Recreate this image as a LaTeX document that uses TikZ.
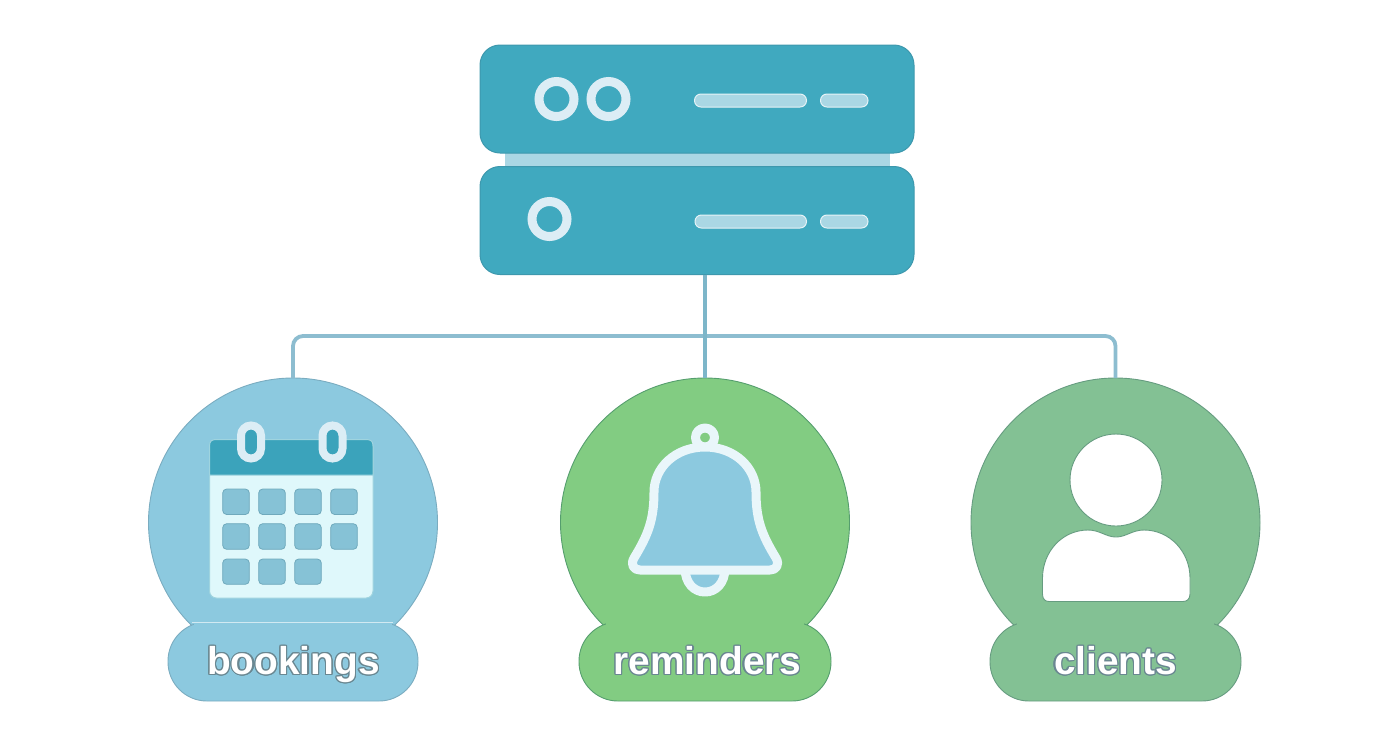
\documentclass[tikz,border=0pt]{standalone}
\usepackage{fontspec}
\setmainfont{Liberation Sans}
\usepackage[copies]{contour}
\contourlength{0.6pt}
\usetikzlibrary{positioning}
\definecolor{rackfill}{HTML}{40A9BF}
\definecolor{rackedge}{HTML}{3D98AD}
\definecolor{rackhead}{HTML}{3BA3BB}
\definecolor{rackbar}{HTML}{AAD7E4}
\definecolor{ringpale}{HTML}{DCEDF5}
\definecolor{linkblue}{HTML}{8DBDD0}
\definecolor{bookfill}{HTML}{8CC9DF}
\definecolor{bookedge}{HTML}{7AACC0}
\definecolor{remfill}{HTML}{82CC82}
\definecolor{remedge}{HTML}{559E6E}
\definecolor{clifill}{HTML}{83C194}
\definecolor{cliedge}{HTML}{669C80}
\definecolor{calbody}{HTML}{DFF8FB}
\definecolor{calcell}{HTML}{86C2D6}
\definecolor{celledge}{HTML}{6FA9BC}
\definecolor{bellpale}{HTML}{E9F6FA}
\definecolor{textedge}{HTML}{6A8791}
\tikzset{
	rackbox/.style={draw=rackedge, fill=rackfill, line width=0.5pt, rectangle, rounded corners=10pt, minimum width=217pt, minimum height=54pt, inner sep=0pt, outer sep=0pt},
	led/.style={draw=ringpale, line width=4.5pt, fill=rackfill, circle, minimum size=17.5pt, inner sep=0pt},
	slot/.style={draw=white!70!rackbar, line width=0.5pt, fill=rackbar, rounded corners=3.2pt},
	link/.style={draw=linkblue, line width=1.9pt, rounded corners=5pt},
	bigcirc/.style={circle, minimum size=144.5pt, inner sep=0pt, outer sep=0pt, line width=0.45pt},
	pill/.style={rectangle, rounded corners=19.5pt, minimum height=39.5pt, inner sep=0pt, outer sep=0pt, line width=0.45pt},
	tag/.style={anchor=base, font=\bfseries\fontsize{19.4}{21}\selectfont, inner sep=0pt},
	cell/.style={draw=celledge, line width=0.4pt, fill=calcell, rounded corners=2pt},
	calring/.style={draw=ringpale, line width=4pt, fill=rackhead, rounded corners=5pt},
	bell/.style={draw=bellpale, line width=4.5pt, fill=bookfill, line join=round}
}
\begin{document}
\begin{tikzpicture}[x=0.5pt, y=-0.5pt]
	\useasboundingbox (0,0) rectangle (1392,752);
	\fill[rackbar] (505,150) rectangle (890,170);
	\node[rackbox] (rackTop) at (697,99) {};
	\node[rackbox] (rackBottom) at (697,220.5) {};
	\node[led] (ledA) at (556.5,99) {};
	\node[led] (ledB) at (608.5,99) {};
	\node[led] (ledC) at (549.5,219) {};
	\draw[slot] (694.5,94) rectangle (806.5,107);
	\draw[slot] (820.5,94) rectangle (868,107);
	\draw[slot] (695,215) rectangle (806.5,228);
	\draw[slot] (820.5,215) rectangle (868,228);

	\node[bigcirc, draw=bookedge, fill=bookfill] (circBookings) at (293,522.5) {};
	\node[bigcirc, draw=remedge, fill=remfill] (circReminders) at (705,522.5) {};
	\node[bigcirc, draw=cliedge, fill=clifill] (circClients) at (1115.5,522.5) {};
	\node[pill, draw=bookedge, fill=bookfill, minimum width=125pt] (pillBookings) at (293,661.5) {};
	\node[pill, draw=remedge, fill=remfill, minimum width=126pt] (pillReminders) at (705,661.5) {};
	\node[pill, draw=cliedge, fill=clifill, minimum width=125.5pt] (pillClients) at (1115.5,661.5) {};
	\fill[bookfill] (194,620) rectangle (392,628);
	\fill[remfill] (606,620) rectangle (804,628);
	\fill[clifill] (1017,620) rectangle (1214,628);
	\draw[white!60!bookfill, line width=0.5pt] (192,622.5) -- (393,622.5);

	\coordinate (busMid) at (705,336);
	\draw[link] (circBookings.north) |- (busMid) -| (circClients.north);
	\draw[link, draw=linkblue!80!rackedge] (rackBottom.south -| busMid) -- (circReminders.north);

	\node[tag, text=white] (tagBookings) at (293.5,674.5) {\contour{textedge}{bookings}};
	\node[tag, text=white] (tagReminders) at (707.5,674.5) {\contour{textedge}{reminders}};
	\node[tag, text=white] (tagClients) at (1115.5,674.5) {\contour{textedge}{clients}};

	\draw[draw=white!50!rackfill, fill=calbody, line width=0.5pt, rounded corners=3.5pt] (209.5,439.5) rectangle (373,598);
	\draw[draw=white!50!rackfill, fill=rackhead, line width=0.5pt] (209.5,475) -- (209.5,446) .. controls (209.5,441) and (212,439.5) .. (216,439.5) -- (366,439.5) .. controls (371,439.5) and (373,441) .. (373,446) -- (373,475) -- cycle;
	\draw[calring] (241,425.5) rectangle (261,458.5);
	\draw[calring] (322.5,425.5) rectangle (342.5,458.5);
	\draw[cell] (222.7,489) rectangle (249.3,514.5) (258.7,489) rectangle (285.3,514.5) (294.7,489) rectangle (321.3,514.5) (330.7,489) rectangle (357.3,514.5);
	\draw[cell] (222.7,523.7) rectangle (249.3,549.3) (258.7,523.7) rectangle (285.3,549.3) (294.7,523.7) rectangle (321.3,549.3) (330.7,523.7) rectangle (357.3,549.3);
	\draw[cell] (222.7,559) rectangle (249.3,584.3) (258.7,559) rectangle (285.3,584.3) (294.7,559) rectangle (321.3,584.3);

	\draw[bell, fill=remfill] (705,437.5) circle (9.5);
	\draw[bell] (685,568) .. controls (685,583) and (694,592) .. (705,592) .. controls (716,592) and (725,583) .. (725,568) -- cycle;
	\draw[bell] (705,447) .. controls (735,447) and (756,468) .. (756,492) .. controls (756,520) and (762,535) .. (776,558) .. controls (780,565) and (776,570) .. (770,570) -- (640,570) .. controls (634,570) and (630,565) .. (634,558) .. controls (648,535) and (654,520) .. (654,492) .. controls (654,468) and (675,447) .. (705,447) -- cycle;

	\draw[draw=cliedge, fill=white, line width=0.45pt] (1116,480) circle (46);
	\draw[draw=cliedge, fill=white, line width=0.45pt] (1042.5,578) .. controls (1042.5,552) and (1062,530) .. (1088,530) .. controls (1100,530) and (1106,537) .. (1116,537) .. controls (1126,537) and (1132,530) .. (1144,530) .. controls (1170,530) and (1190,552) .. (1190,578) -- (1190,594) .. controls (1190,599) and (1187,601.5) .. (1183,601.5) -- (1049,601.5) .. controls (1045,601.5) and (1042.5,599) .. (1042.5,594) -- cycle;
\end{tikzpicture}
\end{document}
